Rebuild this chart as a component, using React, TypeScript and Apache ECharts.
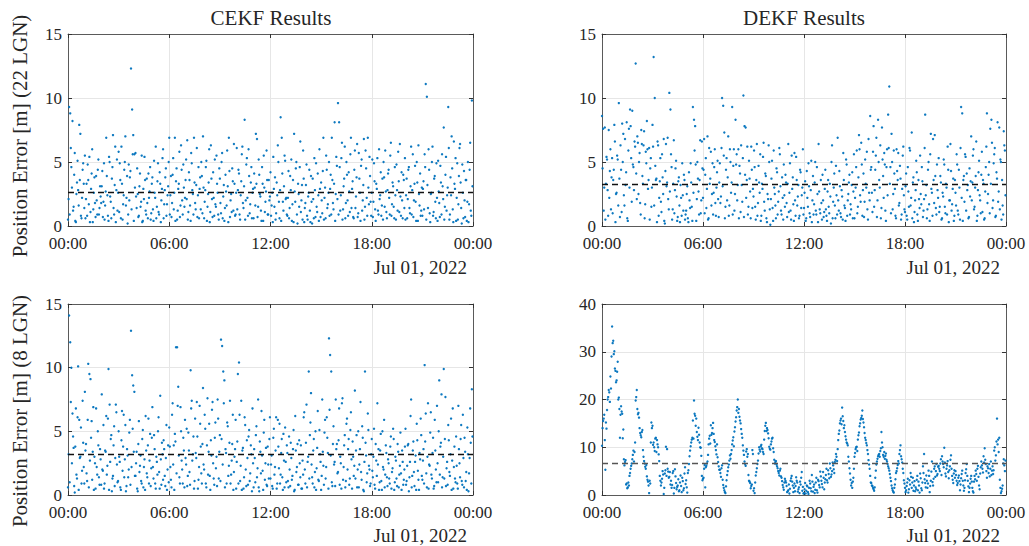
import React, { useEffect, useRef } from "react";
import * as echarts from "echarts";

// sampling cadence of the epochs (minutes) over Jul 01, 2022; "a" arrays are the even epochs, "b" arrays the odd ones
const STEP_MIN = 4;
const HOUR_TICKS = [0, 6, 12, 18, 24];
const TICK_LABELS = ["00:00", "06:00", "12:00", "18:00", "00:00"];
const DATE_LABEL = "Jul 01, 2022";
const TITLES = ["CEKF Results", "DEKF Results"];
const ROW_LABELS = ["Position Error [m] (22 LGN)", "Position Error [m] (8 LGN)"];

// CEKF, 22 LGN (one row per hour)
const cekf22a = [
  0.5, 9.3, 8.8, 4.6, 8.2, 1.5, 5.7, 0.3, 3.4, 2.8, 7.9, 7.2, 0.6, 4.4, 3.3,
  5.5, 2.1, 0.8, 3.6, 5.4, 1.1, 4.1, 0.3, 2.6, 1.8, 3.9, 0.9, 5.2, 1.4, 2.3,
  3.1, 0.7, 4.9, 1.6, 6.9, 2.4, 0.4, 5.0, 1.9, 3.7, 7.1, 0.9, 6.2, 2.8, 1.2,
  5.8, 4.9, 0.6, 3.3, 1.7, 4.4, 7.0, 2.2, 0.2, 4.8, 3.8, 12.3, 9.1, 7.1, 5.6,
  5.7, 1.4, 2.5, 0.8, 4.1, 1.9, 0.3, 2.9, 5.4, 1.2, 3.7, 0.6, 2.2, 4.6, 1.0,
  3.8, 0.4, 2.6, 6.2, 1.5, 4.9, 0.9, 3.3, 2.0, 5.3, 0.6, 2.8, 4.5, 1.7, 3.1,
  6.9, 2.4, 0.7, 4.0, 1.3, 6.9, 3.5, 0.5, 2.9, 5.8, 1.6, 4.4, 0.9, 3.0, 2.2,
  5.2, 6.7, 1.1, 3.6, 0.4, 4.9, 2.5, 6.9, 1.8, 3.2, 0.7, 4.6, 2.9, 1.3, 3.9,
  7.0, 0.6, 2.8, 5.1, 1.5, 3.4, 0.3, 6.3, 2.1, 4.2, 0.8, 1.7, 5.5, 2.6, 0.5,
  3.7, 1.0, 5.7, 2.3, 0.4, 4.0, 1.6, 3.1, 6.9, 0.7, 2.5, 4.5, 1.2, 3.3, 0.9,
  6.1, 2.8, 4.1, 0.5, 3.5, 6.2, 1.4, 8.3, 2.0, 5.3, 0.8, 3.9, 1.7, 4.6, 2.6,
  0.6, 3.0, 7.2, 6.8, 1.5, 4.0, 2.3, 0.4, 3.3, 5.5, 1.1, 2.7, 3.6, 0.9, 2.0,
  4.2, 1.6, 0.3, 2.9, 3.8, 1.0, 2.4, 5.0, 0.6, 8.5, 6.9, 1.9, 3.1, 5.1, 2.2,
  0.8, 4.3, 1.4, 2.8, 0.4, 3.6, 7.2, 1.9, 5.0, 0.2, 2.5, 4.6, 1.1, 3.2, 5.9,
  0.3, 1.8, 4.8, 0.5, 2.6, 1.2, 3.9, 0.2, 2.1, 5.3, 0.7, 1.5, 4.1, 0.4, 2.9,
  3.4, 1.0, 6.9, 2.2, 0.6, 4.4, 1.7, 5.0, 2.9, 0.9, 3.6, 1.3, 8.1, 2.5, 4.7,
  9.6, 8.1, 1.2, 5.3, 0.5, 3.1, 6.2, 1.8, 4.0, 0.8, 2.7, 5.6, 1.4, 3.5, 0.6,
  5.9, 2.3, 6.4, 1.0, 3.7, 0.4, 5.2, 2.0, 6.8, 1.5, 4.5, 0.8, 3.0, 5.4, 1.9,
  2.6, 0.7, 4.9, 1.3, 3.3, 5.3, 0.9, 2.1, 4.2, 1.6, 0.5, 3.8, 5.9, 1.1, 2.8,
  4.4, 0.9, 6.5, 1.7, 3.1, 0.6, 2.4, 4.8, 1.2, 3.5, 6.4, 0.8, 2.0, 4.0, 1.4,
  0.5, 3.7, 2.1, 4.6, 1.0, 6.2, 2.8, 0.7, 3.3, 1.9, 5.0, 0.4, 2.5, 4.1, 1.2,
  0.8, 3.5, 5.6, 11.1, 10.1, 1.4, 4.4, 0.3, 2.6, 6.2, 1.1, 3.9, 0.6, 2.2, 5.1,
  1.8, 4.7, 0.9, 3.1, 7.7, 1.5, 5.4, 2.4, 9.3, 0.5, 3.8, 7.0, 1.3, 6.6, 2.9,
  0.4, 4.9, 1.7, 6.1, 3.4, 0.2, 2.6, 4.3, 0.7, 3.6, 1.9, 0.3, 4.4, 1.2, 9.8,
];
const cekf22b = [
  2.1, 0.9, 6.1, 3.0, 1.2, 4.0, 0.4, 2.5, 5.1, 1.6, 3.6, 0.8, 2.2, 4.9, 1.4,
  0.6, 3.3, 4.8, 1.7, 0.3, 2.9, 6.0, 1.3, 3.8, 0.7, 2.0, 4.4, 0.9, 3.1, 1.8,
  4.3, 1.9, 0.5, 2.7, 3.9, 0.8, 5.4, 2.3, 0.6, 4.6, 1.4, 3.2, 0.3, 5.2, 2.6,
  1.1, 3.6, 6.2, 0.5, 2.4, 5.0, 1.6, 3.9, 0.9, 2.0, 4.3, 1.3, 5.6, 0.4, 3.0,
  2.3, 4.5, 0.7, 3.1, 1.5, 5.5, 0.4, 2.1, 3.6, 0.9, 1.8, 4.1, 2.7, 0.5, 3.3,
  1.3, 5.1, 2.2, 0.6, 3.5, 1.1, 4.2, 0.3, 2.9, 6.0, 1.7, 3.8, 0.8, 2.4, 5.0,
  0.9, 3.9, 1.8, 5.3, 2.6, 0.4, 4.5, 1.2, 3.3, 0.7, 6.3, 2.0, 4.8, 1.5, 3.6,
  2.1, 0.5, 4.2, 1.6, 5.7, 2.8, 0.9, 3.4, 1.3, 6.1, 2.4, 0.6, 3.8, 5.0, 1.0,
  3.0, 1.9, 4.6, 0.4, 2.5, 6.0, 1.1, 3.7, 0.7, 2.2, 5.2, 1.5, 3.3, 0.9, 4.5,
  1.8, 5.0, 0.6, 3.2, 1.4, 2.7, 5.9, 0.3, 4.3, 2.0, 1.1, 3.5, 6.4, 0.8, 2.6,
  1.3, 4.4, 0.9, 2.4, 5.6, 1.8, 3.1, 0.5, 4.8, 2.2, 6.0, 1.0, 3.4, 0.6, 2.9,
  4.1, 1.6, 3.3, 0.7, 5.2, 2.5, 1.2, 4.6, 0.4, 3.0, 1.9, 5.9, 0.9, 3.6, 2.3,
  0.8, 2.6, 5.4, 1.5, 0.5, 3.4, 6.3, 1.9, 2.8, 0.4, 4.1, 1.2, 5.5, 2.1, 0.9,
  2.2, 0.6, 3.9, 5.2, 1.7, 0.3, 2.7, 4.5, 0.9, 3.3, 1.5, 6.6, 2.0, 0.5, 3.7,
  1.4, 3.2, 0.8, 2.3, 4.4, 0.3, 1.9, 3.7, 0.6, 2.8, 4.9, 1.1, 2.4, 6.0, 0.7,
  2.0, 4.3, 0.5, 3.0, 5.5, 1.4, 2.6, 0.8, 4.0, 6.9, 1.8, 3.3, 0.4, 5.4, 2.1,
  0.9, 4.6, 2.4, 6.5, 1.3, 3.7, 0.6, 5.0, 2.0, 4.2, 1.1, 6.9, 2.9, 0.7, 4.4,
  1.4, 3.8, 0.7, 5.7, 2.6, 4.7, 1.2, 3.2, 0.5, 5.9, 2.2, 6.9, 1.7, 3.9, 0.8,
  5.2, 1.9, 3.5, 0.4, 2.9, 1.2, 6.0, 2.4, 0.8, 3.7, 5.0, 1.5, 2.7, 0.6, 4.1,
  2.2, 5.5, 0.8, 3.4, 1.5, 4.6, 0.5, 2.8, 5.8, 1.1, 2.3, 4.2, 0.6, 3.6, 5.3,
  2.4, 0.6, 4.4, 1.4, 3.1, 0.9, 5.6, 2.0, 4.7, 0.4, 3.4, 6.3, 1.6, 0.8, 3.0,
  2.9, 1.3, 4.6, 0.5, 3.2, 6.0, 1.0, 2.5, 5.0, 0.8, 3.7, 1.9, 4.9, 0.4, 2.7,
  0.7, 3.4, 5.6, 2.1, 0.5, 4.0, 1.2, 3.0, 6.1, 0.9, 2.4, 4.5, 0.3, 3.3, 5.3,
  2.2, 0.5, 3.9, 6.4, 1.4, 4.8, 0.6, 2.0, 3.6, 0.4, 5.0, 1.7, 6.5, 0.8, 3.1,
];

// DEKF, 22 LGN
const dekf22a = [
  8.6, 7.6, 3.0, 0.5, 5.4, 2.8, 7.5, 4.3, 1.3, 5.3, 3.6, 7.9, 0.3, 2.6, 5.2,
  9.6, 0.7, 4.4, 8.0, 7.2, 1.6, 3.2, 8.1, 0.4, 7.6, 9.1, 5.3, 9.0, 4.6, 6.6,
  12.7, 2.1, 6.5, 5.0, 1.8, 7.5, 3.9, 6.3, 0.6, 5.8, 8.2, 2.9, 6.1, 4.5, 1.5,
  7.9, 13.2, 10.0, 3.6, 0.3, 6.3, 2.2, 5.3, 1.1, 3.8, 6.8, 0.2, 6.4, 3.4, 2.1,
  10.4, 9.1, 4.6, 1.3, 6.7, 2.8, 5.1, 0.4, 3.5, 1.6, 3.2, 0.8, 2.4, 4.0, 0.5,
  1.2, 3.1, 0.3, 2.0, 4.9, 1.5, 9.3, 8.3, 7.8, 0.4, 5.0, 2.7, 3.6, 1.0, 6.6,
  2.2, 6.8, 4.0, 1.4, 7.0, 0.6, 3.3, 5.8, 2.5, 0.9, 4.6, 1.8, 3.0, 5.1, 0.7,
  4.9, 2.3, 10.0, 9.4, 7.3, 1.5, 5.3, 3.8, 0.8, 6.0, 2.6, 9.3, 4.7, 1.2, 8.3,
  5.6, 3.2, 0.6, 4.1, 6.3, 1.9, 10.2, 7.8, 7.7, 3.6, 0.9, 5.1, 2.7, 6.2, 1.4,
  2.3, 4.6, 0.5, 6.4, 1.8, 3.4, 5.6, 0.8, 2.9, 6.5, 1.2, 3.9, 0.3, 2.1, 5.0,
  0.1, 3.7, 1.4, 5.9, 2.5, 0.6, 4.2, 1.9, 6.1, 3.1, 0.9, 2.2, 4.8, 1.5, 3.4,
  0.7, 6.4, 2.6, 1.2, 5.5, 3.8, 0.4, 2.0, 5.4, 1.6, 3.2, 0.8, 4.2, 2.4, 6.0,
  1.4, 3.5, 0.6, 2.2, 4.9, 1.0, 2.8, 0.3, 3.9, 1.7, 5.0, 0.9, 2.5, 6.4, 1.3,
  3.6, 0.5, 2.0, 1.1, 4.4, 0.8, 2.7, 1.5, 3.3, 0.2, 6.3, 1.9, 4.1, 0.6, 2.4,
  6.9, 1.2, 3.1, 0.7, 2.3, 5.7, 1.6, 0.4, 4.8, 2.0, 3.4, 0.9, 1.3, 4.2, 2.7,
  0.6, 3.0, 5.9, 1.5, 7.1, 2.4, 6.5, 0.8, 4.1, 1.9, 3.3, 5.8, 0.5, 2.6, 8.6,
  4.6, 1.1, 7.8, 2.8, 5.5, 0.7, 8.3, 3.6, 6.3, 1.4, 5.2, 2.2, 4.8, 0.4, 6.0,
  8.7, 10.9, 4.6, 7.2, 1.3, 5.9, 2.9, 0.6, 4.3, 5.7, 1.8, 3.7, 0.9, 5.5, 2.4,
  1.1, 4.1, 0.5, 2.7, 6.1, 1.6, 7.3, 3.4, 0.3, 2.0, 5.1, 0.9, 3.6, 1.4, 2.5,
  4.6, 0.7, 2.1, 8.7, 3.2, 1.3, 5.0, 0.4, 7.2, 2.6, 6.8, 1.8, 3.9, 0.9, 2.8,
  5.3, 1.5, 3.4, 0.6, 2.3, 4.8, 1.0, 3.0, 6.2, 0.3, 2.0, 4.3, 1.7, 3.7, 0.8,
  2.6, 5.6, 1.2, 4.4, 0.5, 9.3, 8.8, 3.6, 1.9, 5.4, 4.1, 3.2, 0.7, 2.3, 7.0,
  3.4, 6.0, 1.5, 3.9, 0.4, 2.8, 5.1, 2.0, 4.0, 1.1, 3.3, 0.6, 4.6, 8.8, 2.5,
  5.0, 7.6, 8.3, 1.4, 4.9, 6.1, 0.8, 3.7, 1.9, 7.7, 5.2, 0.5, 1.6, 7.4, 5.9,
];
const dekf22b = [
  4.5, 1.2, 7.7, 3.3, 5.2, 0.8, 2.2, 6.0, 3.8, 1.0, 4.4, 6.6, 2.5, 5.5, 1.6,
  3.7, 6.3, 1.1, 5.0, 2.4, 6.8, 4.2, 0.6, 5.9, 3.0, 7.8, 1.9, 4.8, 2.8, 6.2,
  4.1, 7.0, 2.5, 5.7, 0.9, 6.4, 3.3, 7.4, 1.7, 4.9, 6.0, 3.6, 0.5, 5.3, 3.0,
  6.2, 1.6, 4.7, 3.7, 6.6, 0.8, 3.5, 1.9, 5.6, 2.5, 0.4, 4.3, 3.1, 6.9, 1.3,
  2.7, 5.6, 0.5, 3.3, 1.0, 4.5, 2.3, 0.7, 3.8, 0.3, 2.2, 4.9, 1.2, 3.6, 0.9,
  2.5, 0.6, 4.2, 1.4, 3.4, 0.4, 2.6, 5.9, 4.8, 2.1, 3.7, 0.9, 6.7, 2.0, 4.5,
  4.4, 1.0, 5.3, 2.9, 0.5, 6.1, 3.7, 1.6, 4.9, 2.6, 6.0, 0.8, 4.2, 2.1, 3.4,
  1.8, 6.1, 3.1, 5.5, 0.6, 4.4, 2.0, 7.0, 1.6, 5.0, 3.4, 0.9, 6.0, 2.5, 4.8,
  2.0, 6.0, 4.7, 1.1, 3.2, 5.3, 0.7, 4.0, 2.2, 6.2, 1.5, 3.7, 0.6, 4.4, 2.9,
  5.9, 1.5, 3.6, 0.8, 4.7, 2.6, 0.4, 3.3, 5.4, 1.9, 4.1, 0.6, 2.5, 6.3, 1.3,
  2.1, 5.1, 0.4, 3.0, 1.6, 4.5, 0.9, 2.7, 5.6, 1.2, 3.8, 0.5, 2.4, 4.0, 1.8,
  3.3, 1.1, 4.9, 0.5, 2.9, 1.7, 5.7, 0.8, 3.6, 2.3, 0.6, 4.4, 1.4, 3.0, 0.9,
  2.6, 0.4, 4.3, 1.5, 3.1, 0.7, 5.1, 2.0, 0.9, 3.4, 1.2, 4.6, 0.3, 2.7, 1.0,
  1.8, 4.0, 0.7, 2.9, 1.3, 0.4, 3.6, 1.0, 2.3, 5.0, 0.6, 3.0, 1.6, 4.7, 0.9,
  2.0, 4.3, 1.0, 2.8, 0.5, 3.6, 1.4, 5.2, 0.8, 2.5, 4.0, 1.7, 3.2, 0.6, 5.6,
  2.2, 4.6, 1.0, 3.8, 6.0, 1.9, 4.8, 2.8, 0.7, 5.2, 3.0, 1.3, 6.8, 2.0, 4.4,
  2.6, 5.8, 1.5, 4.4, 6.9, 2.0, 5.0, 3.0, 0.6, 7.7, 3.9, 5.7, 1.2, 4.6, 2.4,
  6.1, 3.3, 1.0, 5.0, 2.5, 4.1, 0.8, 6.0, 3.6, 1.6, 4.7, 0.5, 2.9, 6.2, 1.3,
  3.1, 0.8, 4.6, 1.5, 5.9, 2.2, 0.6, 3.8, 1.1, 2.8, 4.2, 0.4, 2.1, 5.5, 1.7,
  3.5, 1.2, 6.1, 2.4, 0.6, 4.4, 1.7, 5.6, 2.9, 0.8, 3.6, 7.1, 1.4, 4.8, 2.2,
  1.1, 3.9, 0.5, 2.6, 5.2, 1.5, 3.3, 0.9, 4.4, 2.0, 6.4, 1.2, 2.9, 0.4, 3.6,
  1.6, 4.8, 0.9, 3.0, 6.1, 2.2, 0.4, 3.9, 5.6, 1.2, 2.8, 0.6, 4.5, 3.5, 2.0,
  5.5, 1.3, 3.0, 6.6, 0.8, 4.2, 2.4, 1.0, 5.8, 3.6, 0.5, 2.7, 6.2, 1.8, 4.0,
  1.0, 3.3, 6.5, 2.0, 5.6, 0.7, 4.2, 8.1, 2.7, 1.3, 5.0, 3.6, 0.9, 6.3, 2.4,
];

// CEKF, 8 LGN
const cekf8a = [
  0.6, 14.1, 12.0, 10.0, 6.4, 3.7, 0.2, 6.8, 1.3, 10.1, 5.9, 3.0, 0.9, 7.4, 2.2,
  8.1, 4.0, 1.1, 10.3, 9.5, 9.1, 5.8, 3.4, 0.4, 2.5, 6.8, 1.6, 3.9, 0.8, 2.8,
  7.9, 1.9, 0.5, 3.5, 6.2, 2.3, 9.9, 7.1, 4.4, 0.3, 1.5, 5.4, 2.9, 6.5, 1.0,
  5.0, 2.6, 0.4, 6.6, 3.8, 1.4, 5.5, 0.7, 3.1, 2.0, 5.9, 12.9, 9.4, 8.6, 8.1,
  1.5, 3.4, 0.3, 5.8, 2.3, 1.1, 4.4, 0.6, 2.8, 6.2, 1.7, 3.9, 0.9, 4.8, 2.1,
  6.9, 1.3, 3.6, 0.5, 2.6, 5.0, 1.8, 7.8, 0.8, 3.2, 4.3, 1.5, 2.9, 0.4, 3.9,
  5.3, 2.2, 0.6, 7.2, 3.9, 4.8, 11.6, 11.6, 8.5, 1.4, 6.9, 2.7, 0.9, 3.5, 5.9,
  2.4, 0.7, 4.9, 1.8, 9.8, 7.4, 3.2, 0.5, 6.0, 2.9, 4.6, 1.2, 7.0, 3.8, 0.9,
  8.4, 2.0, 5.2, 0.6, 7.6, 3.4, 1.5, 4.3, 6.7, 2.5, 0.8, 5.7, 3.0, 7.5, 1.3,
  4.7, 12.2, 11.7, 9.7, 9.0, 3.6, 0.9, 5.4, 2.3, 7.4, 1.6, 4.0, 0.4, 3.0, 5.9,
  2.6, 9.5, 10.4, 1.1, 7.4, 3.5, 0.5, 6.1, 2.0, 4.3, 0.8, 5.1, 1.7, 3.2, 6.8,
  0.6, 2.9, 4.7, 1.4, 7.5, 0.3, 3.4, 6.6, 1.9, 4.9, 1.2, 3.7, 0.7, 2.4, 4.4,
  1.3, 3.1, 0.5, 5.2, 2.2, 6.1, 0.9, 3.8, 5.6, 1.6, 4.4, 0.4, 2.7, 5.3, 1.0,
  3.3, 0.6, 2.0, 4.1, 1.2, 3.6, 0.3, 6.2, 1.8, 4.0, 0.8, 2.5, 3.9, 0.5, 1.6,
  6.5, 0.9, 7.1, 2.6, 9.7, 4.7, 8.0, 1.4, 3.5, 0.6, 5.0, 2.1, 6.6, 1.1, 3.2,
  0.4, 7.5, 2.3, 4.9, 1.3, 6.1, 3.3, 12.3, 11.0, 9.7, 0.7, 5.4, 2.6, 7.5, 4.0,
  1.8, 6.8, 3.0, 0.5, 7.6, 2.2, 4.7, 1.1, 6.0, 3.6, 0.8, 5.1, 2.8, 4.2, 1.5,
  8.2, 3.5, 0.6, 5.0, 2.4, 7.3, 1.2, 4.5, 0.3, 9.7, 3.1, 1.7, 5.1, 2.0, 0.9,
  4.4, 1.4, 5.2, 0.5, 2.7, 7.2, 3.6, 1.0, 4.8, 0.4, 2.2, 5.9, 1.6, 3.3, 0.7,
  2.5, 0.9, 4.6, 1.8, 5.2, 0.4, 3.0, 1.3, 4.0, 0.6, 2.3, 1.7, 3.5, 0.8, 2.0,
  5.2, 1.1, 3.9, 0.3, 2.6, 7.5, 1.5, 4.2, 0.7, 3.1, 5.6, 1.9, 0.4, 2.8, 4.7,
  1.2, 3.6, 10.2, 6.4, 0.6, 7.2, 2.4, 4.9, 1.6, 3.3, 0.5, 5.9, 2.0, 7.0, 1.0,
  9.0, 3.8, 7.9, 1.4, 9.9, 4.4, 0.7, 2.6, 5.5, 1.8, 3.2, 0.4, 6.8, 2.2, 1.3,
  4.6, 0.9, 7.0, 2.5, 4.4, 1.1, 6.3, 0.6, 3.4, 1.8, 5.3, 0.3, 2.9, 4.1, 8.3,
];
const cekf8b = [
  3.2, 1.0, 7.3, 2.5, 4.6, 0.7, 3.8, 1.6, 6.1, 0.4, 2.9, 5.3, 1.9, 4.1, 0.9,
  3.5, 1.7, 5.9, 0.6, 2.7, 4.5, 1.2, 6.9, 3.0, 0.5, 2.2, 5.0, 1.4, 3.6, 0.8,
  2.0, 5.5, 0.9, 3.4, 1.6, 6.0, 0.4, 2.6, 4.7, 1.3, 3.9, 0.7, 7.1, 2.4, 1.1,
  3.0, 0.6, 4.3, 1.9, 6.3, 2.8, 0.3, 3.6, 1.4, 4.9, 0.8, 2.2, 5.2, 3.4, 1.5,
  2.5, 0.5, 4.0, 1.8, 3.1, 0.9, 5.1, 2.2, 0.4, 3.5, 1.4, 6.0, 2.7, 0.7, 4.5,
  2.2, 4.7, 0.9, 3.0, 1.6, 6.1, 0.5, 2.8, 4.1, 1.2, 3.6, 0.7, 5.5, 2.0, 1.0,
  3.8, 1.2, 6.3, 2.4, 0.4, 4.2, 1.7, 7.0, 3.1, 0.9, 5.0, 2.0, 4.5, 0.6, 2.9,
  5.2, 1.5, 3.5, 0.8, 6.8, 2.7, 4.6, 1.1, 3.3, 7.3, 0.5, 2.2, 5.6, 1.7, 4.0,
  2.4, 6.3, 0.9, 3.9, 1.6, 5.6, 0.4, 3.1, 7.3, 1.3, 4.5, 2.1, 0.7, 6.0, 3.4,
  1.1, 4.4, 2.4, 7.2, 0.6, 3.3, 5.7, 1.5, 4.1, 0.9, 2.7, 6.3, 1.8, 3.6, 0.5,
  4.2, 0.9, 6.3, 2.3, 0.4, 3.7, 1.4, 5.5, 0.7, 2.9, 4.6, 1.1, 3.9, 0.3, 2.5,
  3.6, 1.0, 5.4, 2.1, 0.6, 4.2, 1.7, 3.1, 0.4, 5.9, 2.5, 0.8, 3.8, 1.3, 6.1,
  2.4, 0.7, 4.5, 1.6, 3.5, 0.5, 5.9, 2.1, 0.9, 3.3, 1.4, 4.8, 0.6, 2.6, 3.9,
  1.1, 4.6, 0.7, 2.9, 1.5, 5.1, 0.4, 3.5, 2.2, 0.8, 4.3, 1.4, 0.5, 2.7, 6.1,
  2.0, 4.1, 0.6, 3.0, 1.3, 5.7, 2.4, 0.9, 4.4, 1.8, 0.4, 3.7, 1.2, 5.1, 2.6,
  1.5, 3.4, 0.8, 5.9, 2.2, 4.5, 0.5, 6.7, 3.1, 1.0, 4.0, 2.4, 0.7, 3.6, 1.7,
  4.3, 0.8, 2.5, 7.2, 1.2, 3.9, 0.6, 5.6, 2.0, 4.4, 1.3, 6.5, 0.5, 3.0, 2.3,
  1.3, 4.7, 2.0, 0.6, 3.6, 1.8, 5.4, 0.4, 2.6, 4.1, 1.0, 6.4, 2.3, 0.7, 3.2,
  1.9, 3.0, 0.8, 4.0, 1.5, 2.4, 0.4, 3.5, 1.1, 5.0, 2.0, 0.6, 3.9, 1.4, 2.8,
  1.3, 3.8, 0.5, 2.1, 4.4, 1.0, 2.7, 0.7, 3.4, 1.6, 4.9, 0.4, 2.6, 1.2, 3.8,
  0.8, 2.3, 4.0, 1.4, 6.2, 0.6, 3.5, 1.8, 2.6, 0.4, 4.3, 1.2, 3.3, 6.0, 1.5,
  2.7, 0.9, 4.2, 1.7, 3.0, 0.5, 2.3, 6.5, 1.3, 4.5, 0.7, 3.5, 1.0, 2.5, 5.0,
  1.6, 4.1, 0.6, 3.0, 1.3, 7.7, 2.1, 0.8, 4.3, 1.5, 6.0, 2.7, 0.5, 3.8, 1.0,
  2.3, 0.5, 3.6, 1.4, 5.5, 0.8, 2.9, 4.5, 1.1, 0.4, 3.2, 1.7, 6.8, 0.9, 4.6,
];

// DEKF, 8 LGN
const dekf8a = [
  10.3, 15.5, 16.8, 5.3, 13.9, 20.0, 22.0, 19.5, 22.3, 35.3, 32.3, 30.1, 26.0, 24.0, 27.9,
  20.4, 12.0, 18.6, 17.0, 13.7, 6.2, 7.3, 2.4, 1.6, 2.0, 4.6, 6.1, 7.5, 9.3, 9.0,
  19.8, 22.0, 16.9, 16.2, 13.0, 12.1, 13.6, 8.0, 6.6, 5.5, 3.9, 2.8, 0.4, 2.4, 15.2,
  14.5, 11.0, 9.2, 12.0, 11.5, 10.0, 7.1, 3.0, 2.6, 5.0, 0.2, 4.5, 10.1, 9.6, 4.9,
  3.8, 2.2, 1.5, 4.6, 0.3, 5.4, 2.5, 1.7, 3.3, 1.0, 4.1, 0.6, 2.9, 1.4, 5.8,
  3.1, 0.5, 5.2, 8.1, 10.2, 11.6, 15.6, 19.8, 16.6, 16.0, 12.2, 14.1, 11.0, 9.9, 4.0,
  3.4, 5.5, 1.6, 6.1, 7.0, 10.6, 12.4, 14.6, 13.0, 15.1, 11.5, 10.2, 8.5, 7.9, 6.0,
  5.3, 3.8, 6.2, 2.1, 1.0, 0.4, 3.1, 5.0, 6.4, 8.3, 8.6, 10.6, 12.1, 13.3, 15.4,
  17.7, 20.0, 18.0, 15.6, 13.8, 12.0, 9.3, 7.0, 6.1, 9.6, 8.6, 3.0, 2.5, 1.9, 9.4,
  0.9, 0.4, 4.1, 5.6, 7.2, 10.0, 9.1, 10.5, 9.6, 8.6, 13.4, 15.1, 14.0, 12.9, 10.1,
  9.5, 11.2, 12.0, 9.0, 6.6, 7.1, 6.0, 5.0, 4.1, 5.5, 3.6, 2.1, 1.1, 3.4, 2.6,
  0.6, 1.0, 0.3, 3.0, 4.0, 2.0, 1.5, 0.8, 3.7, 2.6, 1.2, 0.4, 2.2, 4.8, 1.7,
  0.4, 2.5, 0.9, 1.8, 0.2, 3.0, 1.4, 4.2, 0.7, 2.2, 1.1, 3.6, 0.5, 2.9, 1.6,
  3.9, 2.3, 4.8, 1.2, 3.3, 5.5, 2.6, 4.4, 6.6, 3.8, 5.0, 6.2, 4.6, 7.4, 8.0,
  9.6, 12.8, 15.0, 16.0, 18.3, 15.5, 14.6, 12.3, 11.0, 10.4, 7.0, 4.5, 2.0, 1.5, 3.6,
  8.0, 9.6, 10.1, 11.6, 13.1, 15.0, 16.1, 17.7, 15.2, 13.0, 11.5, 10.4, 8.6, 6.4, 4.0,
  2.5, 1.9, 1.2, 1.6, 5.1, 7.0, 8.1, 8.6, 9.2, 13.2, 10.0, 8.0, 7.6, 8.7, 7.0,
  6.0, 5.1, 3.6, 2.0, 1.0, 0.5, 2.2, 4.6, 5.6, 7.1, 8.6, 10.4, 7.5, 5.5, 3.1,
  1.5, 1.0, 2.6, 0.5, 3.1, 4.6, 1.5, 3.6, 2.0, 0.8, 1.2, 4.0, 2.8, 0.5, 3.5,
  1.0, 6.0, 8.6, 2.5, 4.1, 1.5, 5.1, 0.6, 3.0, 7.0, 2.0, 5.5, 3.8, 6.5, 4.4,
  6.1, 5.0, 7.5, 8.1, 6.5, 9.9, 4.5, 5.5, 7.1, 3.5, 6.0, 8.3, 4.0, 2.5, 5.2,
  5.0, 3.0, 2.5, 4.1, 1.0, 3.5, 5.1, 2.0, 1.5, 4.6, 6.5, 3.0, 0.6, 2.4, 4.0,
  1.5, 0.5, 4.0, 5.1, 3.0, 6.1, 2.0, 4.5, 7.0, 5.5, 8.1, 9.8, 6.5, 3.6, 5.6,
  6.5, 5.5, 4.2, 6.0, 5.2, 10.0, 8.3, 16.0, 11.6, 12.0, 1.5, 0.8, 2.0, 7.5, 5.0,
];
const dekf8b = [
  14.0, 16.0, 11.5, 15.2, 17.8, 20.5, 21.5, 24.8, 29.0, 31.8, 29.5, 26.5, 23.6, 25.8, 20.0,
  18.0, 16.8, 17.5, 11.9, 7.5, 6.9, 2.2, 1.4, 2.6, 4.0, 5.5, 6.6, 8.4, 7.0, 11.0,
  20.5, 18.0, 17.2, 14.0, 12.5, 13.2, 9.4, 7.1, 5.9, 6.3, 3.2, 2.0, 3.0, 11.0, 14.0,
  10.5, 10.0, 11.8, 9.0, 10.6, 8.5, 4.0, 2.0, 3.4, 4.3, 1.5, 5.2, 4.0, 5.5, 3.6,
  4.8, 3.0, 2.1, 5.0, 1.5, 3.9, 1.2, 2.0, 0.8, 2.6, 1.9, 3.6, 1.0, 4.5, 2.3,
  1.6, 4.6, 6.5, 9.3, 11.0, 12.0, 11.8, 17.0, 14.5, 13.2, 11.5, 12.6, 10.0, 8.2, 3.1,
  3.6, 6.3, 5.8, 6.6, 8.4, 11.8, 10.8, 12.6, 14.0, 12.8, 11.1, 9.4, 10.6, 6.9, 5.3,
  4.6, 5.6, 3.2, 1.5, 0.6, 1.8, 4.2, 5.8, 7.2, 7.6, 9.4, 11.4, 10.2, 14.2, 16.3,
  18.4, 17.2, 16.4, 15.0, 12.8, 10.4, 8.4, 6.5, 9.1, 8.0, 4.2, 2.8, 1.4, 2.2, 8.6,
  1.4, 2.6, 4.8, 6.5, 8.7, 9.5, 10.2, 9.8, 9.0, 11.6, 14.5, 13.4, 13.6, 11.9, 9.7,
  10.6, 11.8, 9.8, 7.4, 6.9, 6.4, 5.6, 4.6, 5.1, 3.9, 2.9, 1.6, 2.6, 3.0, 1.9,
  0.8, 2.2, 1.3, 3.5, 2.8, 0.6, 2.4, 1.9, 3.0, 0.7, 1.6, 2.8, 3.6, 0.9, 0.3,
  1.2, 0.3, 2.0, 0.6, 1.5, 2.4, 0.8, 2.8, 1.7, 0.4, 2.6, 1.0, 3.2, 2.1, 4.9,
  3.0, 1.6, 3.6, 2.6, 4.2, 3.1, 5.2, 3.5, 5.6, 4.3, 6.8, 5.4, 6.9, 8.6, 7.1,
  11.5, 13.5, 15.6, 14.8, 16.5, 14.0, 13.2, 11.6, 10.8, 8.0, 5.6, 3.2, 2.5, 2.8, 5.5,
  8.8, 10.0, 9.2, 12.5, 14.4, 15.8, 16.6, 15.9, 14.2, 12.0, 10.9, 9.4, 7.3, 5.5, 2.6,
  2.0, 1.5, 0.9, 3.6, 6.4, 7.6, 8.4, 8.0, 9.8, 11.0, 8.4, 9.0, 8.2, 7.4, 6.5,
  5.6, 4.4, 2.9, 1.4, 0.7, 1.5, 3.3, 5.0, 6.3, 6.6, 9.4, 8.1, 6.8, 4.6, 2.4,
  0.6, 1.9, 3.4, 1.2, 2.2, 3.8, 2.6, 0.9, 2.9, 1.6, 3.2, 1.0, 2.0, 4.5, 1.4,
  2.6, 4.6, 3.3, 1.6, 3.0, 2.4, 4.0, 1.9, 4.9, 2.7, 3.4, 6.0, 5.0, 4.1, 5.9,
  5.5, 6.6, 4.2, 7.0, 5.8, 6.8, 3.9, 6.2, 4.8, 5.2, 7.4, 5.5, 3.2, 4.5, 3.6,
  4.2, 2.1, 3.6, 2.9, 2.2, 4.4, 3.0, 0.9, 3.1, 5.4, 4.0, 1.8, 1.5, 3.4, 2.8,
  0.8, 2.8, 3.3, 4.4, 5.5, 3.8, 1.2, 5.8, 6.2, 4.7, 6.8, 7.4, 5.0, 6.0, 4.6,
  3.9, 7.0, 5.1, 4.4, 9.3, 7.2, 11.2, 10.6, 9.0, 3.2, 0.4, 1.3, 6.6, 6.2, 7.2,
];

// mean position error (dashed lines)
const meanCekf22 = 2.63;
const meanDekf22 = 3.25;
const meanCekf8 = 3.2;
const meanDekf8 = 6.6;

const FONT = '"Liberation Serif", "DejaVu Serif", serif';
const TEXT = "#262626";
const DOT = "#0072BD";

const PANELS = [
  { a: cekf22a, b: cekf22b, mean: meanCekf22, yMax: 15, yStep: 5, left: 68, top: 34, width: 405, height: 192, dash: "#111" },
  { a: dekf22a, b: dekf22b, mean: meanDekf22, yMax: 15, yStep: 5, left: 602, top: 34, width: 404, height: 192, dash: "#111" },
  { a: cekf8a, b: cekf8b, mean: meanCekf8, yMax: 15, yStep: 5, left: 68, top: 304, width: 405, height: 191, dash: "#111" },
  { a: dekf8a, b: dekf8b, mean: meanDekf8, yMax: 40, yStep: 10, left: 602, top: 304, width: 404, height: 191, dash: "#555" },
];

function hourLabel(v: number) {
  const i = HOUR_TICKS.indexOf(v);
  return i >= 0 ? TICK_LABELS[i] : "";
}

function points(a: number[], b: number[]) {
  const out: number[][] = [];
  a.forEach((v, i) => {
    out.push([(i * STEP_MIN) / 60, v]);
    if (i < b.length) out.push([(i * STEP_MIN + STEP_MIN / 2) / 60, b[i]]);
  });
  return out;
}

export default function App() {
  const ref = useRef<HTMLDivElement>(null);
  useEffect(() => {
    if (!ref.current) return;
    const chart = echarts.init(ref.current, null, { renderer: "svg" });
    const grid: any[] = [];
    const xAxis: any[] = [];
    const yAxis: any[] = [];
    const series: any[] = [];
    const lineCol = "#5a5a5a";
    PANELS.forEach((p, k) => {
      grid.push({ left: p.left, top: p.top, width: p.width, height: p.height, show: false });
      const common = {
        gridIndex: k,
        type: "value",
        min: 0,
        max: 24,
        interval: 6,
        axisLine: { show: true, onZero: false, lineStyle: { color: lineCol, width: 1 } },
        axisTick: { show: true, inside: true, length: 4, lineStyle: { color: "#333" } },
      };
      xAxis.push({
        ...common,
        position: "bottom",
        axisLabel: { formatter: hourLabel, fontFamily: FONT, fontSize: 17, lineHeight: 14, color: TEXT, margin: 10 },
        splitLine: { show: true, lineStyle: { color: "#e6e6e6", width: 1 } },
      });
      xAxis.push({
        ...common,
        position: "top",
        axisLabel: { show: false },
        splitLine: { show: false },
      });
      const ycommon = {
        gridIndex: k,
        type: "value",
        min: 0,
        max: p.yMax,
        interval: p.yStep,
        axisLine: { show: true, onZero: false, lineStyle: { color: lineCol, width: 1 } },
        axisTick: { show: true, inside: true, length: 4, lineStyle: { color: "#333" } },
      };
      yAxis.push({
        ...ycommon,
        position: "left",
        axisLabel: { fontFamily: FONT, fontSize: 17, lineHeight: 13, color: TEXT, margin: 6 },
        splitLine: { show: true, lineStyle: { color: "#e6e6e6", width: 1 } },
      });
      yAxis.push({
        ...ycommon,
        position: "right",
        axisLabel: { show: false },
        splitLine: { show: false },
      });
      series.push({
        type: "scatter",
        xAxisIndex: 2 * k,
        yAxisIndex: 2 * k,
        symbol: "circle",
        symbolSize: 2.4,
        itemStyle: { color: DOT, opacity: 0.95 },
        data: points(p.a, p.b),
        silent: true,
        markLine: {
          silent: true,
          symbol: "none",
          label: { show: false },
          lineStyle: { color: p.dash, type: [6, 4], width: 1.4 },
          data: [{ yAxis: p.mean }],
        },
        z: 3,
      });
    });

    const txt = (text: string, x: number, y: number, size: number, align: string, rotation = 0) => ({
      type: "text",
      x,
      y,
      rotation,
      style: { text, font: `${size}px ${FONT}`, fill: TEXT, align, verticalAlign: "middle" },
    });

    const graphic: any[] = [
      txt(TITLES[0], 271, 18, 21, "center"),
      txt(TITLES[1], 804, 18, 21, "center"),
      txt(ROW_LABELS[0], 20, 136, 21, "center", Math.PI / 2),
      txt(ROW_LABELS[1], 20, 411, 21, "center", Math.PI / 2),
      txt(DATE_LABEL, 467, 267, 19, "right"),
      txt(DATE_LABEL, 1000, 267, 19, "right"),
      txt(DATE_LABEL, 467, 535, 19, "right"),
      txt(DATE_LABEL, 1000, 535, 19, "right"),
    ];

    chart.setOption({
      animation: false,
      backgroundColor: "#ffffff",
      grid,
      xAxis,
      yAxis,
      series,
      graphic,
    });
    return () => chart.dispose();
  }, []);
  return (
    <div
      ref={ref}
      style={{ position: "fixed", left: 0, top: 0, width: 1029, height: 546, background: "#fff" }}
    />
  );
}
